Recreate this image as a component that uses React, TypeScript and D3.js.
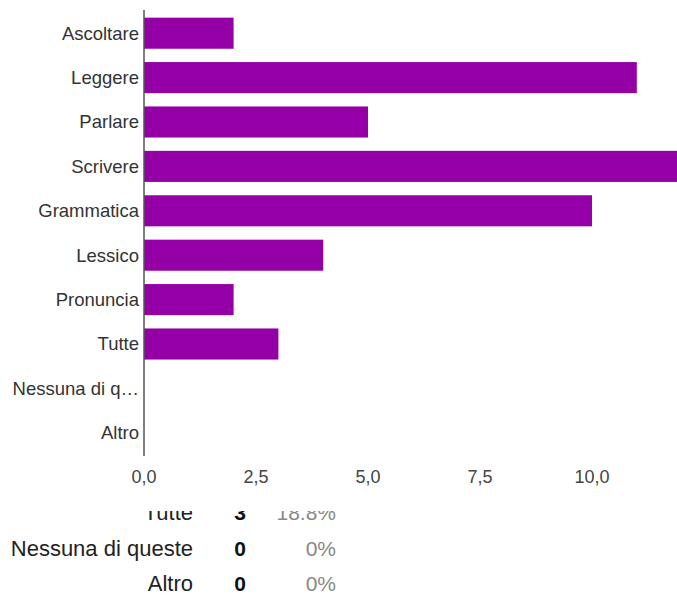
import React from "react";
import * as d3 from "d3";

const categories = ["Ascoltare", "Leggere", "Parlare", "Scrivere", "Grammatica", "Lessico", "Pronuncia", "Tutte", "Nessuna di queste", "Altro"];
const values = [2, 11, 5, 12, 10, 4, 2, 3, 0, 0];
const xTicks = [0, 2.5, 5, 7.5, 10];
const tableLabels = ["Tutte", "Nessuna di queste", "Altro"];
const tableCounts = [3, 0, 0];
const tablePercents = ["18.8%", "0%", "0%"];

const W = 677, H = 599;
const FONT = "'Liberation Sans', Arial, sans-serif";

function truncate(s: string) {
  return s.length > 13 ? s.slice(0, 12) + "…" : s;
}

export default function App() {
  const x = d3.scaleLinear().domain([0, 10]).range([144, 592]);
  const y = d3.scaleBand<string>().domain(categories).range([11, 455]).paddingInner(0.3).paddingOuter(0.15);
  const fmt = (v: number) => d3.format(".1f")(v).replace(".", ",");
  const rowY = d3.scaleLinear().domain([0, 2]).range([520, 591]);
  return (
    <svg width={W} height={H} style={{ position: "absolute", left: 0, top: 0, background: "#fff" }} fontFamily={FONT}>
      <defs>
        <clipPath id="plot"><rect x={0} y={0} width={W} height={H} /></clipPath>
        <clipPath id="tbl"><rect x={0} y={511} width={W} height={H - 511} /></clipPath>
      </defs>
      <g clipPath="url(#plot)">
        {categories.map((c, i) => (
          <rect key={c} x={x(0)} y={y(c)} width={x(values[i]) - x(0)} height={y.bandwidth()} fill="#9500a6" />
        ))}
      </g>
      {categories.map((c) => (
        <text key={c} x={139} y={(y(c) as number) + y.bandwidth() / 2} dy="0.35em" textAnchor="end" fontSize={18.5} fill="#333">
          {truncate(c)}
        </text>
      ))}
      <line x1={x(0)} x2={x(0)} y1={10} y2={456} stroke="#555" strokeWidth={1.5} />
      {xTicks.map((t) => (
        <text key={t} x={x(t)} y={483} textAnchor="middle" fontSize={18} fill="#444">{fmt(t)}</text>
      ))}
      <g clipPath="url(#tbl)">
        {tableLabels.map((l, i) => (
          <g key={l}>
            <text x={193} y={rowY(i)} textAnchor="end" fontSize={22} fill="#222">{l}</text>
            <text x={240} y={rowY(i)} textAnchor="middle" fontSize={21} fontWeight="bold" fill="#111">{tableCounts[i]}</text>
            <text x={336} y={rowY(i)} textAnchor="end" fontSize={21} fill="#888">{tablePercents[i]}</text>
          </g>
        ))}
      </g>
    </svg>
  );
}
